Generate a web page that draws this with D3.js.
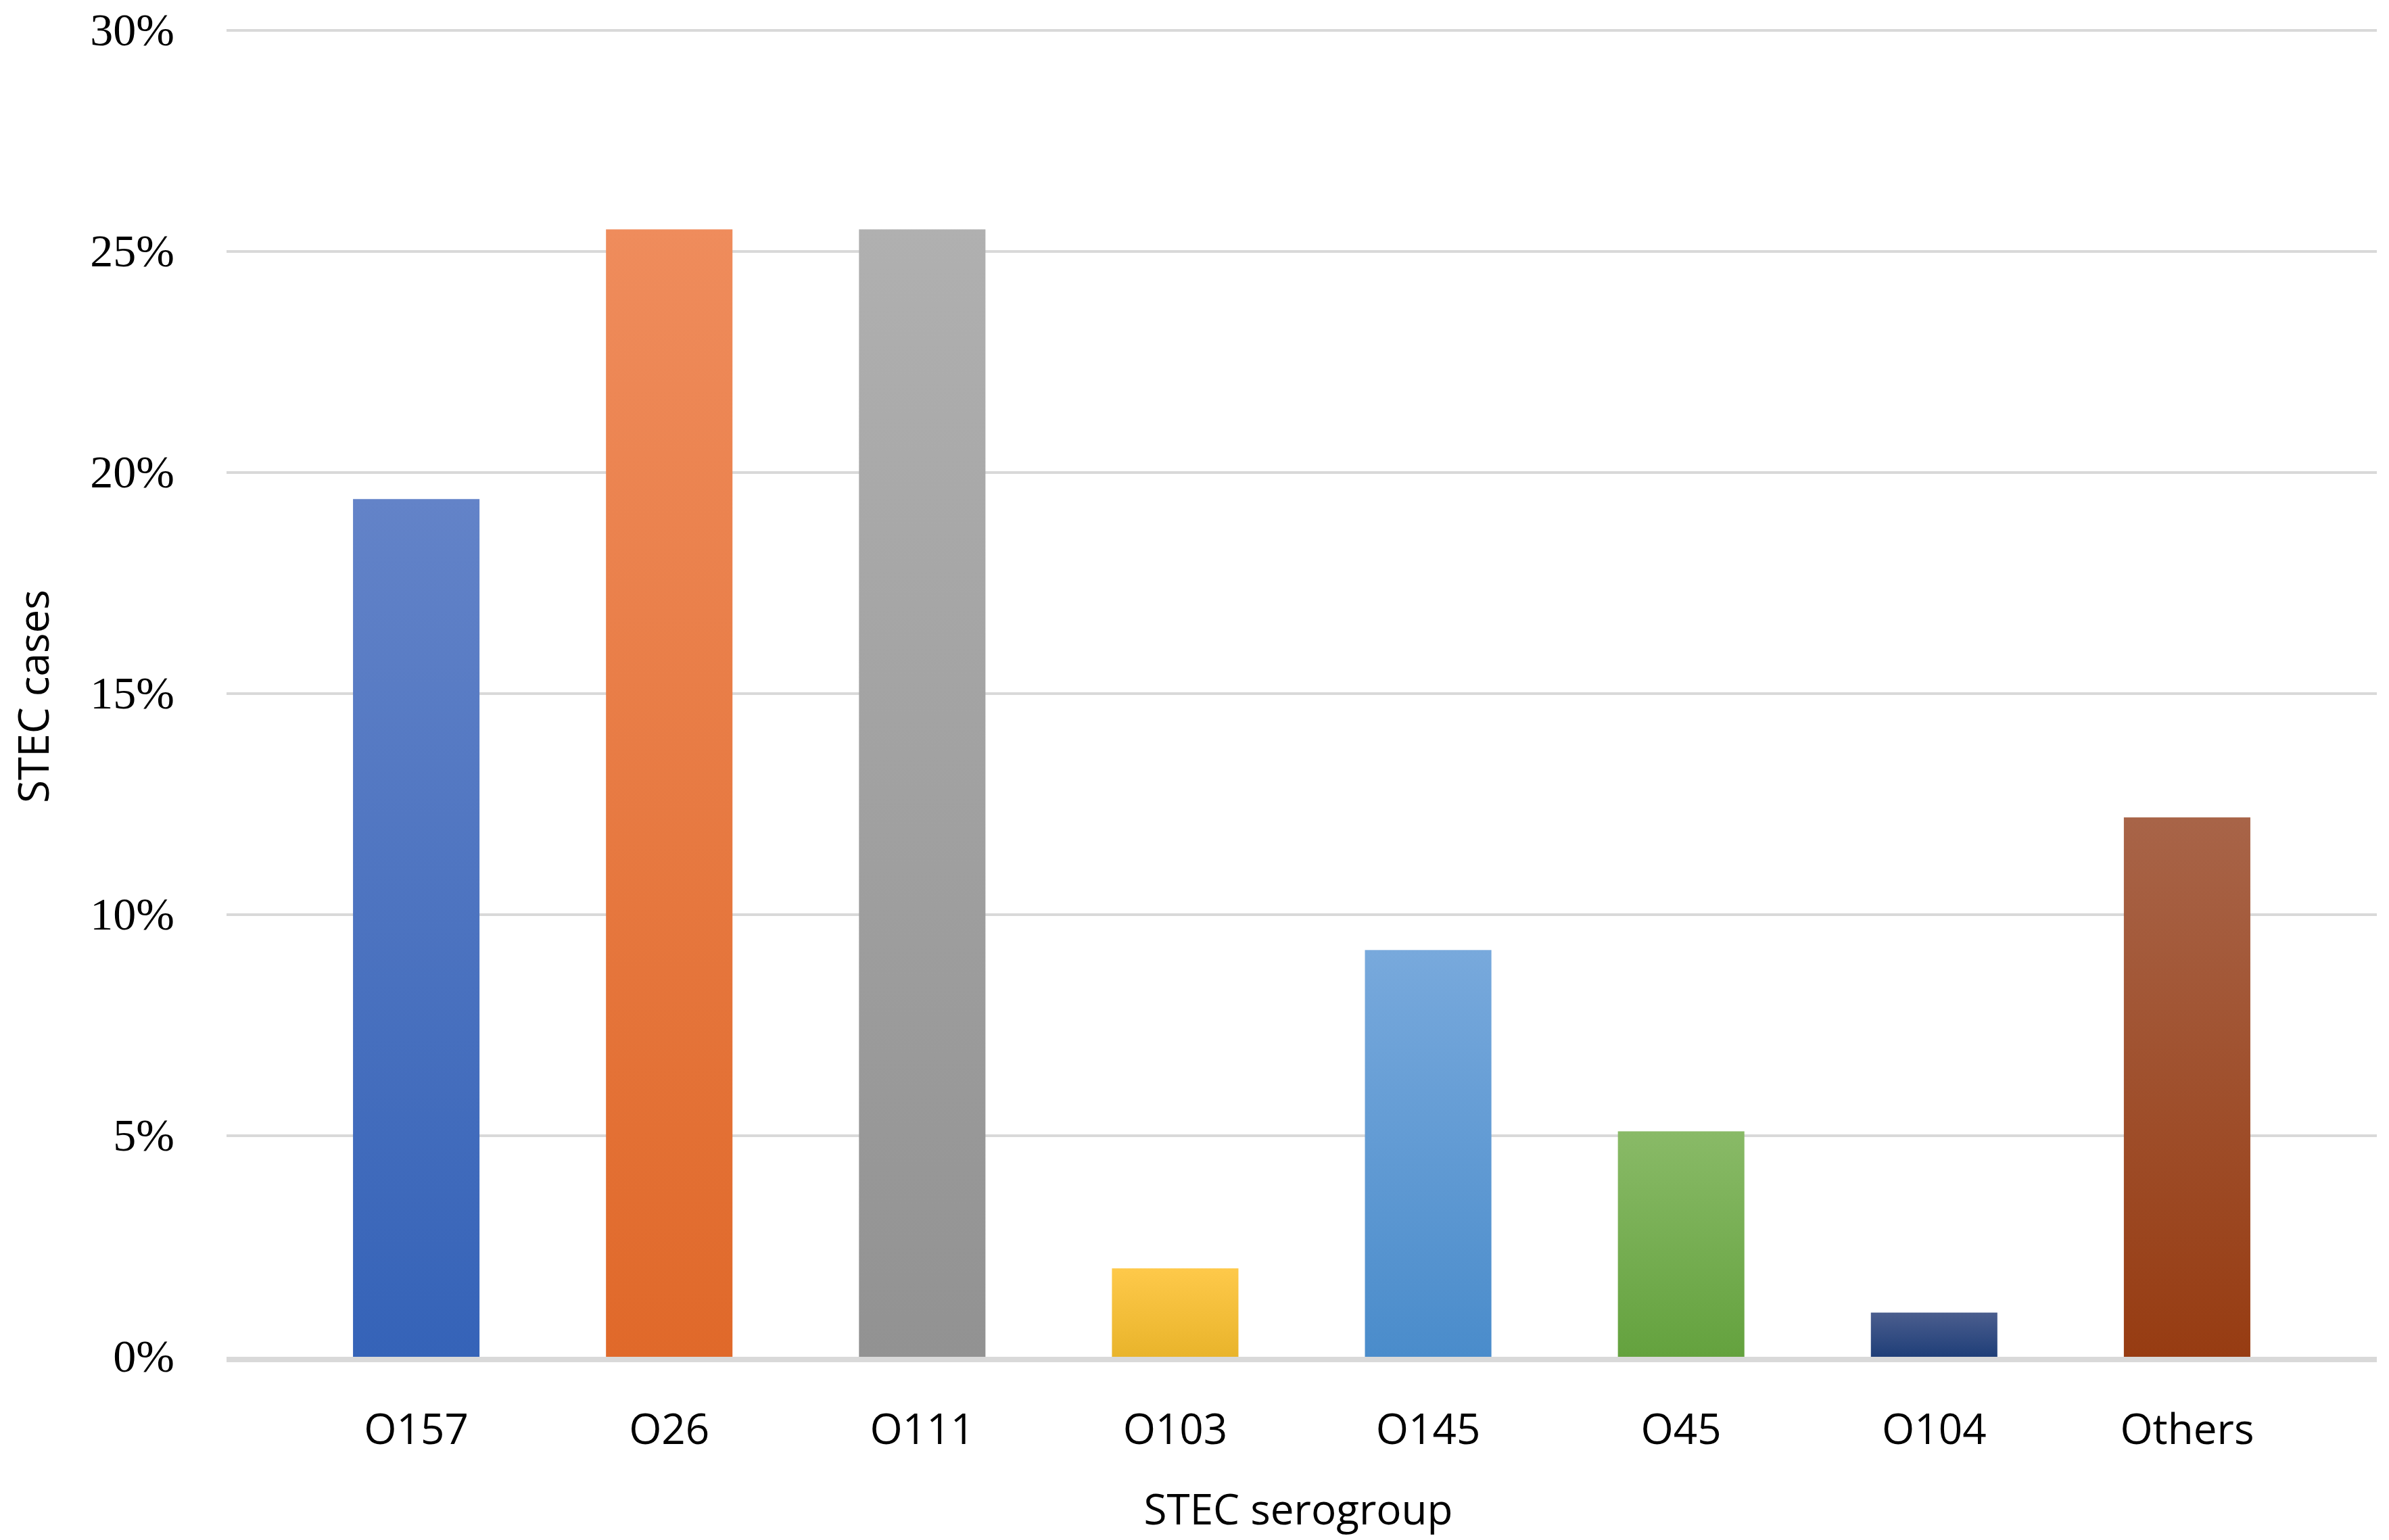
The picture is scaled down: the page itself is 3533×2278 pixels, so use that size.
<!DOCTYPE html>
<html>
<head>
<meta charset="utf-8">
<script src="https://cdn.jsdelivr.net/npm/d3@7"></script>
<style>body{margin:0;background:#fff}</style>
</head>
<body>
<svg id="chart"></svg>
<script>
// data
const categories = ["O157", "O26", "O111", "O103", "O145", "O45", "O104", "Others"];
const values = [19.4, 25.5, 25.5, 2.0, 9.2, 5.1, 1.0, 12.2];
const topColors = ["#6383c8", "#ef8c5c", "#b0b0b0", "#fec94a", "#78a9dc", "#89ba67", "#4b5e8e", "#a86448"];
const bottomColors = ["#3563b8", "#e0692a", "#929292", "#e9b42b", "#4a8ccb", "#64a23e", "#1f3e78", "#973c12"];
const yTicks = [0, 5, 10, 15, 20, 25, 30];

let width = 3533, height = 2278;
let padLeft = 335, padRight = 3515, padTop = 45, padBottom = 2007;

let chart = d3.select("#chart").attr("width", width).attr("height", height);

let defs = chart.append("defs");
categories.forEach(function (c, i) {
    let g = defs.append("linearGradient").attr("id", "grad" + i)
        .attr("x1", 0).attr("y1", 0).attr("x2", 0).attr("y2", 1);
    g.append("stop").attr("offset", "0%").attr("stop-color", topColors[i]);
    g.append("stop").attr("offset", "100%").attr("stop-color", bottomColors[i]);
});

let xscale = d3.scaleBand().domain(categories).range([padLeft, padRight]).padding(0.5);
let yscale = d3.scaleLinear().domain([0, 30]).range([padBottom, padTop]);

// gridlines
chart.append("g").selectAll("line").data(yTicks.slice(1)).enter().append("line")
    .attr("x1", padLeft).attr("x2", padRight)
    .attr("y1", d => yscale(d)).attr("y2", d => yscale(d))
    .style("stroke", "#d9d9d9").style("stroke-width", 4);

// y labels
chart.append("g").selectAll("text").data(yTicks).enter().append("text")
    .attr("x", 258).attr("y", d => yscale(d) + 22)
    .style("text-anchor", "end")
    .style("font-family", "'Liberation Serif', serif")
    .style("font-size", "68px")
    .text(d => d + "%");

// bars
chart.append("g").selectAll("rect").data(values).enter().append("rect")
    .attr("x", (d, i) => xscale(categories[i]))
    .attr("width", xscale.bandwidth())
    .attr("y", d => yscale(d))
    .attr("height", d => padBottom - yscale(d))
    .style("fill", (d, i) => "url(#grad" + i + ")");

// baseline
chart.append("line")
    .attr("x1", padLeft).attr("x2", padRight)
    .attr("y1", padBottom + 4).attr("y2", padBottom + 4)
    .style("stroke", "#d9d9d9").style("stroke-width", 8);

// category labels
chart.append("g").selectAll("text").data(categories).enter().append("text")
    .attr("x", d => xscale(d) + xscale.bandwidth() / 2)
    .attr("y", 2136)
    .style("text-anchor", "middle")
    .style("font-family", "'Open Sans', sans-serif")
    .style("font-size", "62px")
    .text(d => d);

chart.append("text")
    .attr("x", 1920).attr("y", 2255)
    .style("text-anchor", "middle")
    .style("font-family", "'Open Sans', sans-serif")
    .style("font-size", "62px")
    .text("STEC serogroup");

chart.append("text")
    .attr("transform", "translate(72,1030) rotate(-90)")
    .style("text-anchor", "middle")
    .style("font-family", "'Open Sans', sans-serif")
    .style("font-size", "62px")
    .text("STEC cases");
</script>
</body>
</html>
